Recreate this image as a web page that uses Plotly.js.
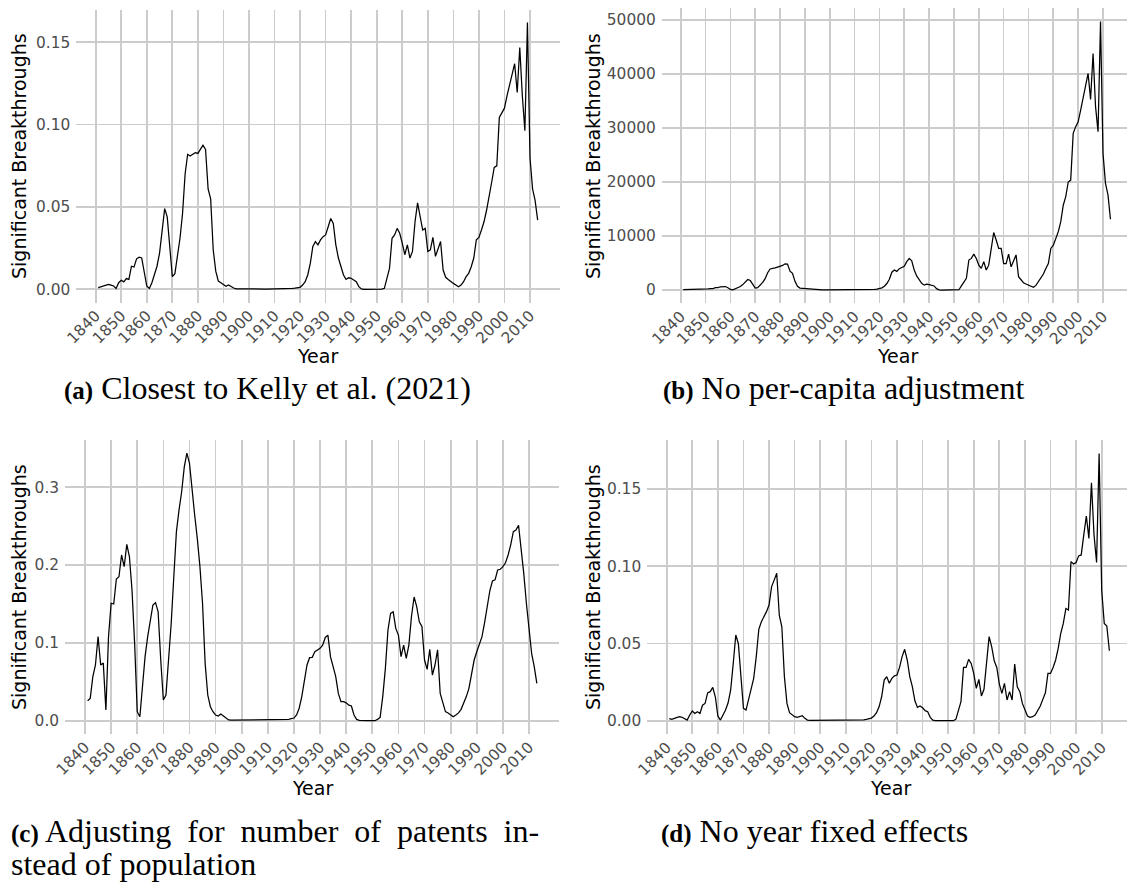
<!DOCTYPE html>
<html>
<head>
<meta charset="utf-8">
<script src="https://cdn.plot.ly/plotly-3.0.1.min.js"></script>
<style>html,body{margin:0;padding:0;background:#ffffff;}</style>
</head>
<body>
<div id="chart" style="width:1127px;height:894px;"></div>
<script>
// ---------------- data ----------------
const years = [
  1841,1842,1843,1844,1845,1846,1847,1848,1849,1850,
  1851,1852,1853,1854,1855,1856,1857,1858,1859,1860,
  1861,1862,1863,1864,1865,1866,1867,1868,1869,1870,
  1871,1872,1873,1874,1875,1876,1877,1878,1879,1880,
  1881,1882,1883,1884,1885,1886,1887,1888,1889,1890,
  1891,1892,1893,1894,1895,1896,1897,1898,1899,1900,
  1901,1902,1903,1904,1905,1906,1907,1908,1909,1910,
  1911,1912,1913,1914,1915,1916,1917,1918,1919,1920,
  1921,1922,1923,1924,1925,1926,1927,1928,1929,1930,
  1931,1932,1933,1934,1935,1936,1937,1938,1939,1940,
  1941,1942,1943,1944,1945,1946,1947,1948,1949,1950,
  1951,1952,1953,1954,1955,1956,1957,1958,1959,1960,
  1961,1962,1963,1964,1965,1966,1967,1968,1969,1970,
  1971,1972,1973,1974,1975,1976,1977,1978,1979,1980,
  1981,1982,1983,1984,1985,1986,1987,1988,1989,1990,
  1991,1992,1993,1994,1995,1996,1997,1998,1999,2000,
  2001,2002,2003,2004,2005,2006,2007,2008,2009,2010,
  2011,2012,2013
];

// (a) Closest to Kelly et al. (2021)
const closestKelly = [
  0.001,0.0015,0.002,0.0025,0.003,0.0025,0.002,0.0005,0.004,0.0055,
  0.0045,0.0065,0.006,0.014,0.0135,0.0185,0.0195,0.019,0.011,0.002,
  0.0005,0.004,0.009,0.014,0.022,0.034,0.049,0.044,0.026,0.0077,
  0.0095,0.02,0.031,0.046,0.07,0.082,0.081,0.082,0.083,0.0825,
  0.085,0.0875,0.085,0.061,0.055,0.024,0.011,0.005,0.004,0.0026,
  0.0018,0.0026,0.0016,0.0008,0.0003,0.0002,0.0002,0.0002,0.0002,0.0003,
  0.0002,0.0002,0.0001,0.0001,0.0001,0.0001,0.0001,0.0001,0.0001,0.0001,
  0.0001,0.0002,0.0002,0.0002,0.0003,0.0004,0.0005,0.0007,0.001,0.0012,
  0.0026,0.0046,0.0087,0.0157,0.026,0.029,0.027,0.030,0.032,0.033,
  0.038,0.043,0.040,0.027,0.019,0.014,0.0087,0.006,0.007,0.0067,
  0.0056,0.0046,0.0016,0.0002,0,0,0,0,0,0,
  0,0.0001,0.0006,0.0067,0.0127,0.031,0.033,0.037,0.034,0.028,
  0.021,0.027,0.019,0.023,0.041,0.0525,0.045,0.036,0.037,0.023,
  0.024,0.0315,0.020,0.025,0.029,0.0117,0.0073,0.006,0.0046,0.0036,
  0.0026,0.0016,0.0026,0.0046,0.0077,0.0097,0.0137,0.019,0.030,0.0315,
  0.036,0.041,0.048,0.058,0.065,0.074,0.075,0.1044,0.1075,0.11,
  0.1175,0.1236,0.1306,0.137,0.1195,0.1468,0.1175,0.0963,0.162,0.080,
  0.061,0.054,0.042
];

// (b) No per-capita adjustment
const noPerCapita = [
  80,90,100,110,130,130,120,80,170,230,
  210,260,270,420,440,600,650,640,420,100,
  40,200,400,650,1000,1500,1950,1750,1100,350,
  450,900,1400,2100,3200,3900,3950,4100,4250,4350,
  4550,4850,4800,3500,3100,1600,700,350,300,260,
  230,260,180,100,50,40,40,40,40,50,
  40,40,30,30,30,30,30,30,30,30,
  30,40,40,40,60,80,100,130,180,250,
  400,700,1200,2000,3300,3700,3450,3950,4250,4400,
  5250,5850,5400,3700,2600,2000,1250,900,1100,1000,
  900,750,250,20,0,0,0,0,0,0,
  0,50,750,1350,2150,5550,5850,6650,5850,4600,
  4000,5250,3700,4600,8000,10650,9250,7700,7700,4900,
  4900,6650,4300,5250,6500,2450,1850,1350,1100,850,
  600,500,850,1550,2150,2950,4000,4900,7700,8300,
  9550,10800,12650,15700,17300,20000,20350,29000,30250,31150,
  33300,35500,37750,40100,35300,43800,33950,29300,49700,25300,
  19750,17600,13100
];

// (c) Adjusting for number of patents instead of population
const patentAdjusted = [
  0.0257,0.0287,0.0566,0.0716,0.108,0.0716,0.074,0.0137,0.108,0.151,
  0.15,0.182,0.185,0.213,0.198,0.2267,0.211,0.168,0.0994,0.0116,
  0.005,0.0437,0.0823,0.108,0.1316,0.1487,0.1517,0.140,0.078,0.0266,
  0.033,0.0737,0.125,0.185,0.243,0.271,0.294,0.326,0.344,0.331,
  0.292,0.264,0.234,0.198,0.151,0.0737,0.033,0.018,0.0116,0.0073,
  0.006,0.0086,0.006,0.003,0.001,0.0008,0.0008,0.0008,0.001,0.0015,
  0.001,0.0008,0.0008,0.0008,0.0008,0.0008,0.0008,0.0008,0.0008,0.0008,
  0.0008,0.0008,0.0008,0.0008,0.001,0.0012,0.0014,0.0017,0.0026,0.0034,
  0.0073,0.016,0.031,0.050,0.0716,0.081,0.0814,0.0887,0.091,0.093,
  0.097,0.107,0.110,0.082,0.0694,0.0566,0.035,0.0244,0.0244,0.023,
  0.020,0.0189,0.0073,0.0017,0.0004,0,0,0,0,0,
  0,0.0017,0.0043,0.031,0.067,0.1166,0.138,0.140,0.1187,0.110,
  0.0823,0.097,0.080,0.097,0.134,0.159,0.1466,0.127,0.121,0.078,
  0.066,0.0917,0.0587,0.0716,0.091,0.035,0.0223,0.0116,0.010,0.0073,
  0.005,0.0073,0.010,0.0146,0.0223,0.031,0.0416,0.0587,0.078,0.0887,
  0.099,0.108,0.126,0.1487,0.167,0.1796,0.181,0.1937,0.1946,0.198,
  0.203,0.213,0.226,0.243,0.245,0.251,0.2216,0.189,0.151,0.114,
  0.0866,0.0694,0.048
];

// (d) No year fixed effects
const noYearFE = [
  0.0013,0.0009,0.0015,0.002,0.0026,0.0022,0.0015,0.0004,0.0037,0.0063,
  0.0047,0.0058,0.0047,0.010,0.0112,0.018,0.0188,0.0216,0.0155,0.003,
  0.0004,0.0032,0.0069,0.0116,0.0199,0.037,0.0555,0.050,0.0263,0.008,
  0.0069,0.0134,0.0209,0.0274,0.0415,0.0591,0.0641,0.0673,0.0706,0.0749,
  0.0868,0.091,0.0954,0.0684,0.0608,0.0285,0.0112,0.0052,0.0037,0.0026,
  0.0022,0.0026,0.0032,0.0015,0.0004,0.0002,0.0002,0.0002,0.0002,0.0004,
  0.0003,0.0002,0.0002,0.0002,0.0002,0.0002,0.0002,0.0002,0.0002,0.0002,
  0.0002,0.0002,0.0002,0.0002,0.0003,0.0004,0.0006,0.0009,0.0013,0.0017,
  0.003,0.0052,0.009,0.0155,0.0263,0.0285,0.0242,0.0274,0.029,0.0296,
  0.0345,0.0415,0.0462,0.0393,0.0285,0.022,0.0129,0.0086,0.0095,0.0084,
  0.0065,0.0058,0.0022,0.0004,0,0,0,0,0,0,
  0,0,0.0009,0.0069,0.0123,0.0345,0.0345,0.0397,0.0371,0.0306,
  0.0209,0.0268,0.016,0.0203,0.0371,0.0544,0.0479,0.0388,0.0345,0.0237,
  0.0177,0.0242,0.0134,0.0188,0.0134,0.0367,0.022,0.0188,0.0112,0.0069,
  0.003,0.0022,0.0026,0.0037,0.0069,0.0095,0.0138,0.0181,0.0306,0.0306,
  0.0345,0.0393,0.0468,0.0565,0.063,0.0727,0.0717,0.103,0.1015,0.1024,
  0.1067,0.1073,0.1203,0.1325,0.118,0.1541,0.1203,0.1024,0.173,0.0846,
  0.063,0.0613,0.0453
];

// tick labels
const xTickYears = [1840,1850,1860,1870,1880,1890,1900,1910,1920,1930,1940,1950,1960,1970,1980,1990,2000,2010];
const xTickText  = ['1840','1850','1860','1870','1880','1890','1900','1910','1920','1930','1940','1950','1960','1970','1980','1990','2000','2010'];
const yTickValsA = [0, 0.05, 0.10, 0.15];
const yTickTextA = ['0.00','0.05','0.10','0.15'];
const yTickValsB = [0, 10000, 20000, 30000, 40000, 50000];
const yTickTextB = ['0','10000','20000','30000','40000','50000'];
const yTickValsC = [0, 0.1, 0.2, 0.3];
const yTickTextC = ['0.0','0.1','0.2','0.3'];
const yTickValsD = [0, 0.05, 0.10, 0.15];
const yTickTextD = ['0.00','0.05','0.10','0.15'];

const xTitle = 'Year';
const yTitle = 'Significant Breakthroughs';
const captionA = '<b><span style="font-size:25px">(a)</span></b> Closest to Kelly et al. (2021)';
const captionB = '<b><span style="font-size:25px">(b)</span></b> No per-capita adjustment';
const captionC1 = '<b><span style="font-size:25px">(c)</span></b> Adjusting\u00a0 for\u00a0 number\u00a0 of\u00a0 patents\u00a0 in-';
const captionC2 = 'stead of population';
const captionD = '<b><span style="font-size:25px">(d)</span></b> No year fixed effects';

// ---------------- layout (pixel geometry) ----------------
const W = 1127, H = 894;
const fx = p => p / W;
const fy = p => 1 - p / H;

const panels = [
  {series: closestKelly,  xPx:[76.3,559.6], yPx:[9.5,302.6],   xr:[1832.41,2021.59], yr:[-0.00808,0.16992],
   yv:yTickValsA, yt:yTickTextA, yTitlePos:[19,156], xTitlePos:[317,356]},
  {series: noPerCapita,   xPx:[661.8,1127], yPx:[8.2,303.4],   xr:[1832.39,2019.66], yr:[-2481,52185],
   yv:yTickValsB, yt:yTickTextB, yTitlePos:[593,156], xTitlePos:[897,356]},
  {series: patentAdjusted,xPx:[65.1,559.3], yPx:[439.8,734.1], xr:[1832.38,2021.60], yr:[-0.01722,0.36105],
   yv:yTickValsC, yt:yTickTextC, yTitlePos:[19,587], xTitlePos:[312,788]},
  {series: noYearFE,      xPx:[647.2,1127], yPx:[440.1,734.4], xr:[1832.38,2019.89], yr:[-0.00887,0.18165],
   yv:yTickValsD, yt:yTickTextD, yTitlePos:[593,587], xTitlePos:[890,788]}
];

const gridColor = '#cccccc';
const tickFont = {family:'DejaVu Sans, sans-serif', size:15.4, color:'#4d4d4d'};
const titleFont = {family:'DejaVu Sans, sans-serif', size:19, color:'#000000'};
const capFont = {family:'Liberation Serif, serif', size:32, color:'#000000'};

const traces = [];
const layout = {
  width: W, height: H,
  margin: {l:0, r:0, t:0, b:0, pad:0},
  paper_bgcolor: '#ffffff',
  plot_bgcolor: '#ffffff',
  showlegend: false,
  annotations: []
};

panels.forEach((p, i) => {
  const n = i === 0 ? '' : String(i + 1);
  traces.push({
    type: 'scatter', mode: 'lines',
    x: years, y: p.series,
    xaxis: 'x' + n, yaxis: 'y' + n,
    line: {color:'#000000', width:1.25},
    hoverinfo: 'skip'
  });
  layout['xaxis' + n] = {
    domain: [fx(p.xPx[0]), fx(p.xPx[1])],
    range: p.xr, anchor: 'y' + n,
    tickmode: 'array', tickvals: xTickYears, ticktext: xTickText,
    tickangle: -45, tickfont: tickFont,
    showgrid: true, gridcolor: gridColor, gridwidth: 1.7,
    zeroline: false, showline: false, ticks: '',
    fixedrange: true
  };
  layout['yaxis' + n] = {
    domain: [fy(p.yPx[1]), fy(p.yPx[0])],
    range: p.yr, anchor: 'x' + n,
    tickmode: 'array', tickvals: p.yv, ticktext: p.yt,
    tickfont: tickFont, ticklabelstandoff: 5,
    showgrid: true, gridcolor: gridColor, gridwidth: 1.7,
    zeroline: false, showline: false, ticks: '',
    fixedrange: true
  };
  layout.annotations.push({
    xref:'paper', yref:'paper', x: fx(p.yTitlePos[0]), y: fy(p.yTitlePos[1]),
    text: yTitle, textangle: -90, showarrow: false,
    xanchor:'center', yanchor:'middle', font: titleFont
  });
  layout.annotations.push({
    xref:'paper', yref:'paper', x: fx(p.xTitlePos[0]), y: fy(p.xTitlePos[1]),
    text: xTitle, showarrow: false,
    xanchor:'center', yanchor:'middle', font: titleFont
  });
});

const caps = [
  {text: captionA,  x: 267, y: 388, xa: 'center'},
  {text: captionB,  x: 843, y: 388, xa: 'center'},
  {text: captionC1, x: 9,   y: 831, xa: 'left'},
  {text: captionC2, x: 9,   y: 864, xa: 'left'},
  {text: captionD,  x: 814, y: 831, xa: 'center'}
];
caps.forEach(c => {
  layout.annotations.push({
    xref:'paper', yref:'paper', x: fx(c.x), y: fy(c.y),
    text: c.text, showarrow: false,
    xanchor: c.xa, yanchor: 'middle', font: capFont
  });
});

Plotly.newPlot('chart', traces, layout, {staticPlot: true, displayModeBar: false});
</script>
</body>
</html>
